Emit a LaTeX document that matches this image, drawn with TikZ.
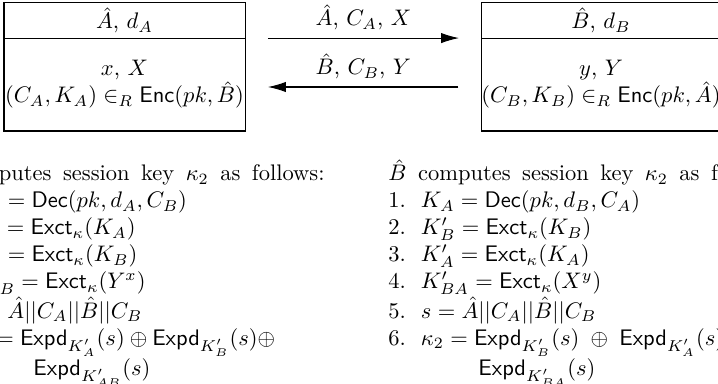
\documentclass[tikz,border=0pt]{standalone}
\usepackage{amsmath,amssymb}
\usetikzlibrary{arrows.meta,positioning,calc}
\tikzset{
  party/.style={draw, line width=0.45pt, minimum width=107.1pt,
    minimum height=15.6pt, inner sep=0pt, outer sep=0pt},
  partybody/.style={party, minimum height=41.3pt, align=center},
  msg/.style={-{Latex[length=8pt,width=4.6pt]}, line width=0.45pt},
  msglabel/.style={above, inner sep=3.3pt},
  steps/.style={align=left, inner sep=0pt, anchor=north west},
}
\newcommand{\fn}[1]{\mathsf{#1}}
\newcommand{\stepno}[1]{#1.\ \ }
\newcommand{\keyline}[1]{{\spaceskip=5.1pt\relax$\hat{#1}$ computes session key $\kappa_2$ as follows:}}

\begin{document}
\begin{tikzpicture}[x=0.4444pt,y=-0.4444pt]
  \useasboundingbox (0,0) rectangle (718,383);
  \clip (0,0) rectangle (718,383);
  % the two parties
  \node[party] (ahead) at (124.5,20.5) {$\hat{A}$, $d_A$};
  \node[partybody, below=0pt of ahead] (abody)
    {$x$, $X$\\ $(C_A,K_A)\in_R\fn{Enc}(pk,\hat{B})$};
  \node[party, minimum width=105.8pt] (bhead) at (601,20.5) {$\hat{B}$, $d_B$};
  \node[partybody, minimum width=105.8pt, below=0pt of bhead] (bbody)
    {$y$, $Y$\\ $(C_B,K_B)\in_R\fn{Enc}(pk,\hat{A})$};
  % messages
  \draw[msg] ([xshift=10.2pt]ahead.south east)
    -- node[msglabel] (msga) {$\hat{A}$, $C_A$, $X$} ([xshift=-10.2pt]bhead.south west);
  \draw[msg] ([xshift=-10.2pt,yshift=-1.1pt]bbody.west)
    -- node[msglabel] (msgb) {$\hat{B}$, $C_B$, $Y$} ([xshift=10.2pt,yshift=-1.1pt]abody.east);
  % session key computation
  \node[steps] (asteps) at (-66,159) {%
    \hspace*{-1.7pt}\keyline{A}\\
    \stepno{1}$K_B=\fn{Dec}(pk,d_A,C_B)$\\
    \stepno{2}$K'_A=\fn{Exct}_\kappa(K_A)$\\
    \stepno{3}$K'_B=\fn{Exct}_\kappa(K_B)$\\
    \stepno{4}$K'_{AB}=\fn{Exct}_\kappa(Y^x)$\\
    \stepno{5}$s=\hat{A}||C_A||\hat{B}||C_B$\\
    \stepno{6}$\kappa_2=\fn{Expd}_{K'_A}(s)\oplus\fn{Expd}_{K'_B}(s)\oplus$\\
    \hspace*{44pt}$\fn{Expd}_{K'_{AB}}(s)$};
  \node[steps] (bsteps) at (388,159) {%
    \keyline{B}\\
    \stepno{1}$K_A=\fn{Dec}(pk,d_B,C_A)$\\
    \stepno{2}$K'_B=\fn{Exct}_\kappa(K_B)$\\
    \stepno{3}$K'_A=\fn{Exct}_\kappa(K_A)$\\
    \stepno{4}$K'_{BA}=\fn{Exct}_\kappa(X^y)$\\
    \stepno{5}$s=\hat{A}||C_A||\hat{B}||C_B$\\
    \stepno{6}$\medmuskip=9mu
      \kappa_2=\fn{Expd}_{K'_B}(s)\oplus\fn{Expd}_{K'_A}(s)\oplus$\\
    \hspace*{40pt}$\fn{Expd}_{K'_{BA}}(s)$};
\end{tikzpicture}
\end{document}
